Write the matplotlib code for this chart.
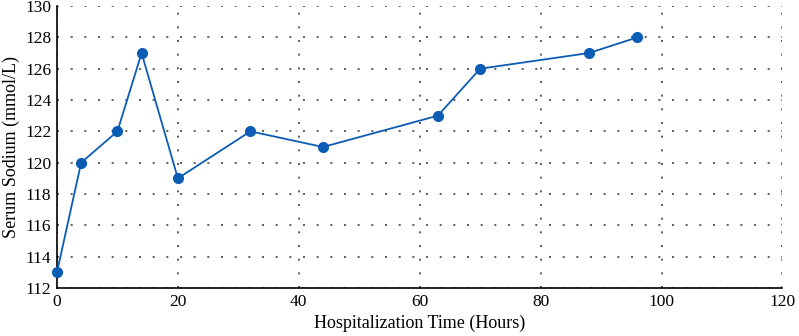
import matplotlib.pyplot as plt

# datos
horas = [0, 4, 10, 14, 20, 32, 44, 63, 70, 88, 96]
sodio = [113, 120, 122, 127, 119, 122, 121, 123, 126, 127, 128]

plt.rcParams['font.family'] = ['Liberation Serif', 'DejaVu Serif']

fig = plt.figure(figsize=(7.99, 3.36), dpi=100)
ax = fig.add_axes([0.0713, 0.143, 0.908, 0.839])

ax.plot(horas, sodio, color="#0b5cb4", linewidth=1.3, marker="o",
        markersize=7, zorder=3, clip_on=False)

ax.set_xlim(0, 120)
ax.set_ylim(112, 130)
ax.set_xticks(range(0, 121, 20))
ax.set_yticks(range(112, 131, 2))

# rejilla punteada
ax.grid(True, linestyle=(0, (1.2, 7)), color="#444444", linewidth=1.2)
ax.spines["top"].set_visible(False)
ax.spines["right"].set_visible(False)
ax.spines["left"].set_linewidth(1.2)
ax.spines["bottom"].set_linewidth(1.2)
ax.tick_params(labelsize=12.5, length=0, pad=4)

ax.set_xlabel("Hospitalization Time (Hours)", fontsize=13)
ax.set_ylabel("Serum Sodium (mmol/L)", fontsize=13)

fig.savefig("out.png", dpi=100)
